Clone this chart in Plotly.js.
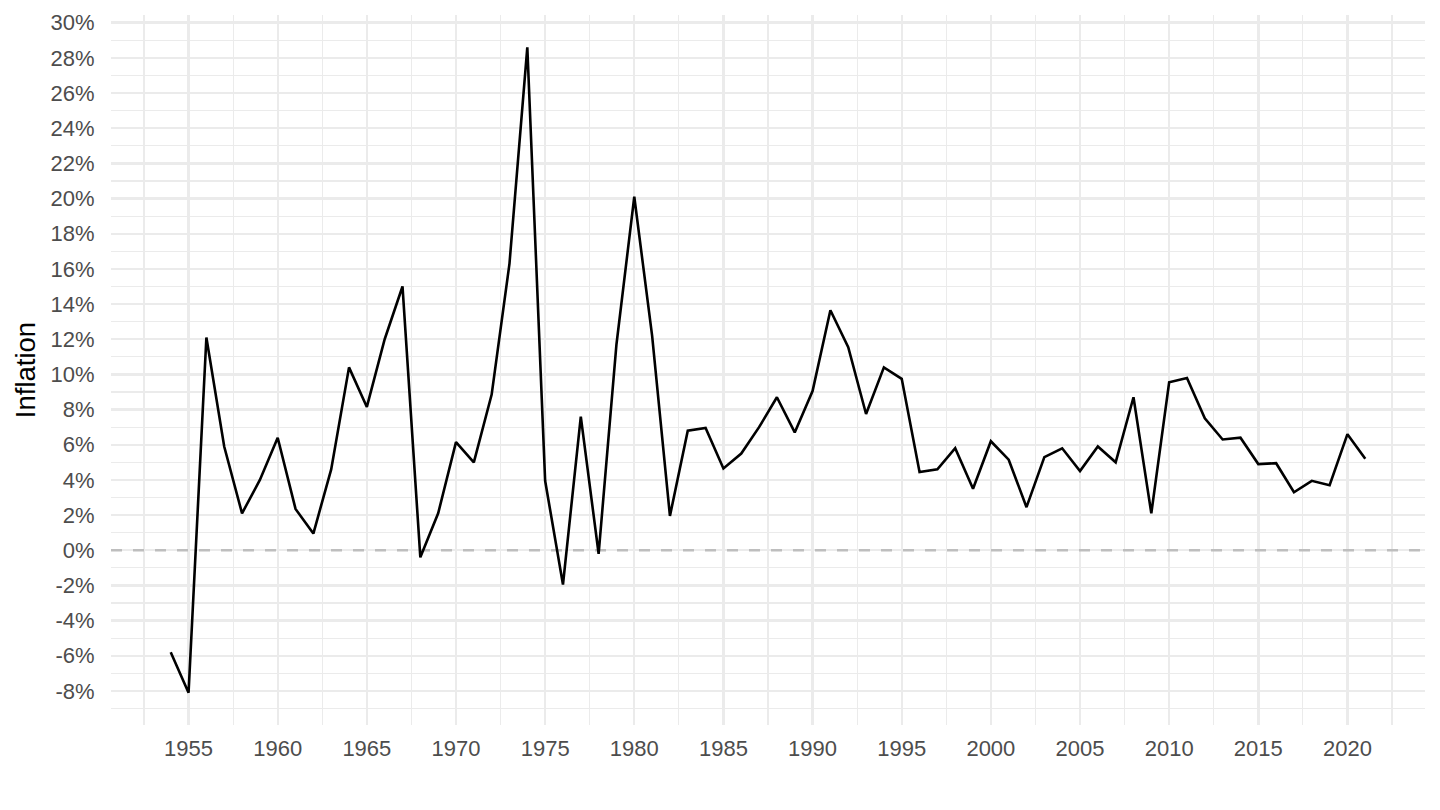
<!DOCTYPE html>
<html>
<head>
<meta charset="utf-8">
<script src="https://cdn.plot.ly/plotly-3.0.1.min.js"></script>
<style>
  html, body { margin: 0; padding: 0; background: #ffffff; }
  #chart { width: 1440px; height: 810px; }
</style>
</head>
<body>
<div id="chart"></div>
<script>
// Data
const years = [
  1954, 1955, 1956, 1957, 1958, 1959, 1960, 1961, 1962, 1963,
  1964, 1965, 1966, 1967, 1968, 1969, 1970, 1971, 1972, 1973,
  1974, 1975, 1976, 1977, 1978, 1979, 1980, 1981, 1982, 1983,
  1984, 1985, 1986, 1987, 1988, 1989, 1990, 1991, 1992, 1993,
  1994, 1995, 1996, 1997, 1998, 1999, 2000, 2001, 2002, 2003,
  2004, 2005, 2006, 2007, 2008, 2009, 2010, 2011, 2012, 2013,
  2014, 2015, 2016, 2017, 2018, 2019, 2020, 2021
];
const inflation = [
  -5.8, -8.1, 12.1, 5.9, 2.1, 4.0, 6.4, 2.35, 0.95, 4.6,
  10.4, 8.15, 12.0, 15.0, -0.4, 2.1, 6.15, 5.0, 8.85, 16.3,
  28.6, 3.95, -1.95, 7.6, -0.2, 11.7, 20.1, 12.2, 1.95, 6.8,
  6.95, 4.65, 5.5, 7.0, 8.7, 6.7, 9.05, 13.65, 11.55, 7.75,
  10.4, 9.75, 4.45, 4.6, 5.8, 3.5, 6.2, 5.15, 2.45, 5.3,
  5.8, 4.5, 5.9, 5.0, 8.7, 2.1, 9.55, 9.8, 7.5, 6.3,
  6.4, 4.9, 4.95, 3.3, 3.95, 3.7, 6.6, 5.2
];
const yTickValues = [-8, -6, -4, -2, 0, 2, 4, 6, 8, 10, 12, 14, 16, 18, 20, 22, 24, 26, 28, 30];
const yTickLabels = yTickValues.map(v => v + '%');
const xTickValues = [1955, 1960, 1965, 1970, 1975, 1980, 1985, 1990, 1995, 2000, 2005, 2010, 2015, 2020];
const xTickLabels = xTickValues.map(v => String(v));
const referenceLevel = 0;

// ggplot-like expanded ranges (5%)
const xmin = Math.min(...years), xmax = Math.max(...years);
const ymin = Math.min(...inflation), ymax = Math.max(...inflation);
const xpad = (xmax - xmin) * 0.05, ypad = (ymax - ymin) * 0.05;
const xRange = [xmin - xpad, xmax + xpad];

const refTrace = {
  x: xRange,
  y: [referenceLevel, referenceLevel],
  type: 'scatter',
  mode: 'lines',
  line: { color: '#bebebe', width: 2.6, dash: '11px,11px' },
  hoverinfo: 'skip',
  cliponaxis: true
};

const trace = {
  x: years,
  y: inflation,
  type: 'scatter',
  mode: 'lines',
  line: { color: '#000000', width: 2.6 },
  hoverinfo: 'x+y'
};

const fontFam = '"Liberation Sans", Arial, Helvetica, sans-serif';

const layout = {
  width: 1440,
  height: 810,
  paper_bgcolor: '#ffffff',
  plot_bgcolor: '#ffffff',
  margin: { l: 111, r: 15, t: 15, b: 85 },
  showlegend: false,
  font: { family: fontFam, color: '#4d4d4d', size: 22 },
  xaxis: {
    range: xRange,
    tickmode: 'array',
    tickvals: xTickValues,
    ticktext: xTickLabels,
    showgrid: true,
    gridcolor: '#ebebeb',
    gridwidth: 2.4,
    zeroline: false,
    showline: false,
    ticks: 'outside',
    ticklen: 4,
    tickcolor: 'rgba(0,0,0,0)',
    tickfont: { family: fontFam, size: 22, color: '#4d4d4d' },
    minor: { dtick: 2.5, tick0: 1952.5, showgrid: true, gridcolor: '#ebebeb', gridwidth: 1.2, ticks: '' },
    fixedrange: true
  },
  yaxis: {
    range: [ymin - ypad, ymax + ypad],
    tickmode: 'array',
    tickvals: yTickValues,
    ticktext: yTickLabels,
    showgrid: true,
    gridcolor: '#ebebeb',
    gridwidth: 2.4,
    zeroline: false,
    showline: false,
    ticks: 'outside',
    ticklen: 11,
    tickcolor: 'rgba(0,0,0,0)',
    tickfont: { family: fontFam, size: 22, color: '#4d4d4d' },
    minor: { dtick: 1, tick0: -9, showgrid: true, gridcolor: '#ebebeb', gridwidth: 1.2, ticks: '' },
    title: { text: 'Inflation', font: { family: fontFam, size: 27.5, color: '#000000' }, standoff: 6 },
    fixedrange: true
  }
};

Plotly.newPlot('chart', [refTrace, trace], layout, { displayModeBar: false, staticPlot: true });
</script>
</body>
</html>
